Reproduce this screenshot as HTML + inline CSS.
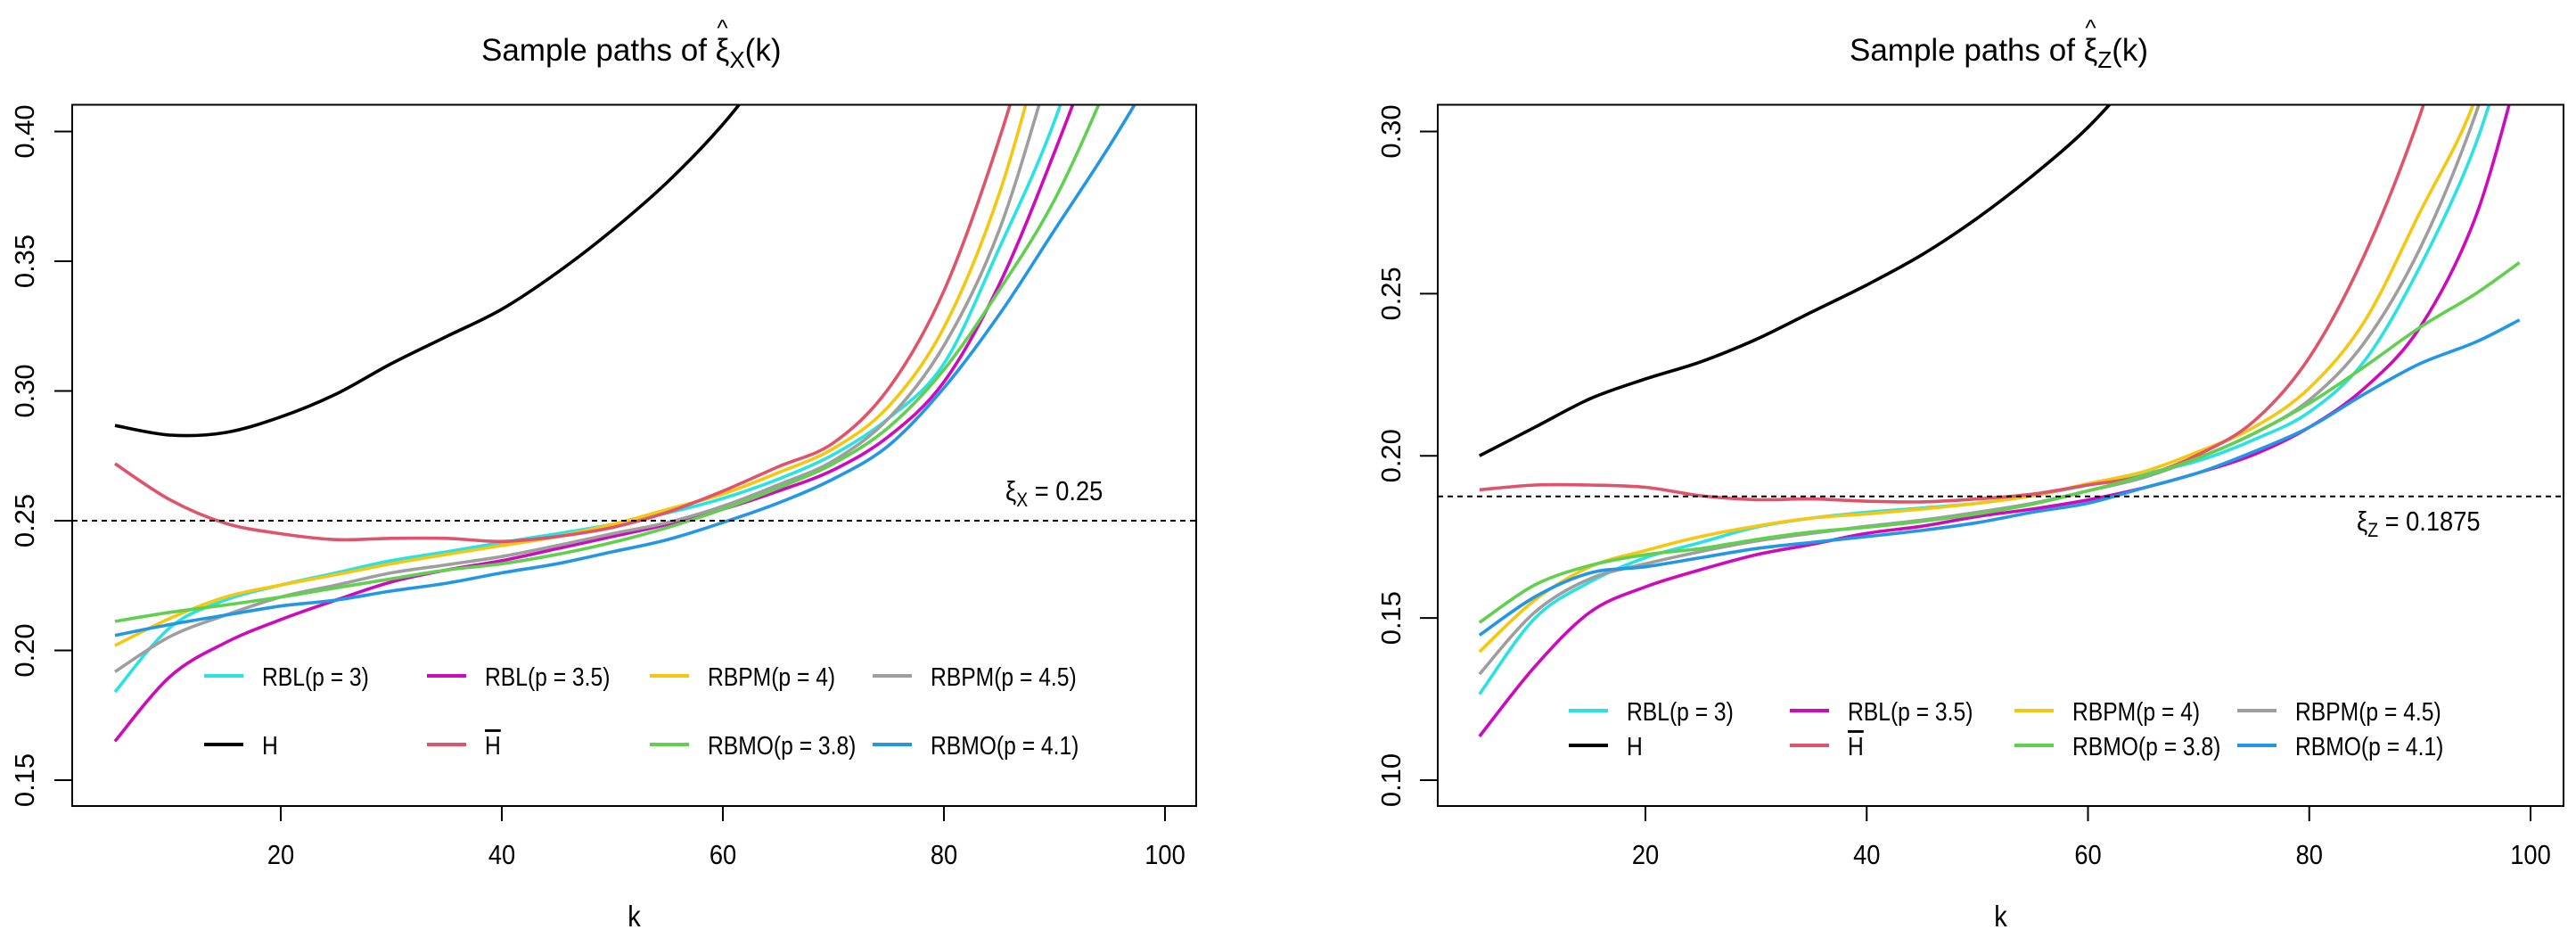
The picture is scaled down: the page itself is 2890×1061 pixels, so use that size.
<!DOCTYPE html>
<html><head><meta charset="utf-8"><style>
html,body{margin:0;padding:0;background:#fff}
svg{display:block}
text{font-family:"Liberation Sans",sans-serif;fill:#000}
</style></head><body>
<svg id="chart" width="2890" height="1061" viewBox="0 0 2890 1061" xmlns="http://www.w3.org/2000/svg"></svg>
<script>
// ---- data ----
const kGrid = [5,10,15,20,25,30,35,40,45,50,55,60,65,70,75,80,85,90,95,100];
const seriesNames = ["RBL(p = 3)","RBL(p = 3.5)","RBPM(p = 4)","RBPM(p = 4.5)","H","H̄","RBMO(p = 3.8)","RBMO(p = 4.1)"];
const seriesColors = ["#28E2E5","#CD0BBC","#F5C710","#9E9E9E","#000000","#DF536B","#61D04F","#2297E6"];
// Left panel (X)
const xCyan    = [0.184,0.2089,0.2194,0.2252,0.2299,0.2346,0.238,0.2416,0.245,0.2486,0.253,0.2586,0.266,0.2755,0.2895,0.3105,0.355,0.404,0.47,0.54];
const xMagenta = [0.165,0.190,0.203,0.2119,0.2194,0.2264,0.231,0.2346,0.2392,0.2439,0.2486,0.2544,0.2614,0.2696,0.2825,0.3035,0.341,0.392,0.45,0.52];
const xYellow  = [0.2019,0.2124,0.2206,0.2252,0.2292,0.2334,0.237,0.2404,0.2439,0.2486,0.2544,0.2603,0.2685,0.2778,0.2941,0.3245,0.376,0.45,0.52,0.6];
const xGray    = [0.1918,0.2054,0.2136,0.2206,0.2252,0.2299,0.233,0.2362,0.2404,0.245,0.2493,0.2556,0.2638,0.2731,0.2895,0.3175,0.362,0.43,0.5,0.58];
const xBlack   = [0.2867,0.283,0.284,0.290,0.2988,0.3105,0.321,0.3315,0.3456,0.362,0.3806,0.4028,0.43,0.46,0.5,0.55,0.6,0.65,0.7,0.75];
const xRed     = [0.272,0.258,0.249,0.245,0.2427,0.2432,0.2432,0.242,0.2439,0.2474,0.2533,0.2614,0.2708,0.280,0.301,0.3386,0.397,0.47,0.55,0.6];
const xGreen   = [0.2112,0.2147,0.2175,0.2206,0.2241,0.2276,0.231,0.2334,0.237,0.2416,0.2474,0.2544,0.2626,0.272,0.286,0.3082,0.3388,0.3736,0.42,0.47];
const xBlue    = [0.2058,0.21,0.2136,0.2171,0.2194,0.2229,0.2259,0.2299,0.2334,0.238,0.2427,0.2493,0.2568,0.2661,0.279,0.3012,0.3294,0.362,0.3946,0.43];
// Right panel (Z)
const kGridZ = [5,10,15,20,25,30,35,40,45,50,55,60,65,70,75,80,85,90,95,99];
const zCyan    = [0.1265,0.1499,0.1611,0.1686,0.1733,0.178,0.1808,0.1826,0.1839,0.1854,0.1877,0.191,0.1944,0.1985,0.205,0.2135,0.2293,0.2583,0.2957,0.34];
const zMagenta = [0.1135,0.135,0.1518,0.1596,0.1649,0.1695,0.1727,0.1761,0.1783,0.1813,0.1836,0.1864,0.1901,0.1948,0.2004,0.2088,0.2209,0.2396,0.2733,0.32];
const zYellow  = [0.1396,0.1555,0.1658,0.1708,0.1751,0.1783,0.1808,0.1821,0.1836,0.1854,0.1877,0.1914,0.1951,0.2013,0.2088,0.2209,0.2415,0.2751,0.31,0.36];
const zGray    = [0.1327,0.1518,0.1621,0.1667,0.1705,0.1737,0.1761,0.1783,0.1802,0.1826,0.1854,0.1892,0.1933,0.1994,0.2069,0.2172,0.235,0.2639,0.305,0.35];
const zBlack   = [0.2,0.2088,0.2176,0.2237,0.229,0.2359,0.2443,0.2527,0.262,0.2733,0.2864,0.3013,0.32,0.34,0.36,0.38,0.4,0.42,0.44,0.46];
const zRed     = [0.1895,0.191,0.191,0.1903,0.1877,0.1865,0.1867,0.186,0.1858,0.1867,0.1882,0.191,0.1938,0.2004,0.2107,0.2303,0.262,0.305,0.36,0.4];
const zGreen   = [0.1486,0.1602,0.1662,0.1695,0.1714,0.1742,0.1765,0.178,0.1798,0.1821,0.1851,0.1892,0.1938,0.1994,0.2069,0.2162,0.2275,0.2396,0.2499,0.2596];
const zBlue    = [0.1447,0.1565,0.1639,0.1658,0.1686,0.1714,0.1733,0.1751,0.177,0.1794,0.1826,0.1854,0.1901,0.1948,0.2013,0.2088,0.2191,0.2284,0.235,0.2419];
const xTicks = [20,40,60,80,100];
const yTicksX = [0.15,0.20,0.25,0.30,0.35,0.40];
const yTicksZ = [0.10,0.15,0.20,0.25,0.30];
const refX = 0.25, refZ = 0.1875;

const NS="http://www.w3.org/2000/svg";
const svg=document.getElementById('chart');
function mk(tag,attrs,parent){const e=document.createElementNS(NS,tag);for(const a in attrs)e.setAttribute(a,attrs[a]);(parent||svg).appendChild(e);return e;}
function smoothPath(p){
  let d='M'+p[0][0].toFixed(1)+','+p[0][1].toFixed(1);
  for(let i=0;i<p.length-1;i++){
    const p0=p[i-1]||p[i],p1=p[i],p2=p[i+1],p3=p[i+2]||p2;
    const c1=[p1[0]+(p2[0]-p0[0])/6,p1[1]+(p2[1]-p0[1])/6];
    const c2=[p2[0]-(p3[0]-p1[0])/6,p2[1]-(p3[1]-p1[1])/6];
    d+=' C'+c1[0].toFixed(1)+','+c1[1].toFixed(1)+' '+c2[0].toFixed(1)+','+c2[1].toFixed(1)+' '+p2[0].toFixed(1)+','+p2[1].toFixed(1);
  }
  return d;
}

function panel(o){
  const g=mk('g',{});
  
  
  const sx=k=>o.x20+(k-20)*(o.x100-o.x20)/80;
  const sy=v=>o.yTop+(o.vTop-v)*(o.yBot-o.yTop)/(o.vTop-o.vBot);
  const cp=mk('clipPath',{id:'clip-'+o.id},g);
  mk('rect',{x:o.L,y:o.T,width:o.R-o.L,height:o.B-o.T},cp);
  const sg=mk('g',{'clip-path':'url(#clip-'+o.id+')'},g);
  o.series.forEach((s,i)=>{
    const pts=o.ks.map((k,j)=>[sx(k),sy(s[j])]);
    const p=mk('path',{d:smoothPath(pts),fill:'none',stroke:seriesColors[i],'stroke-width':3.6,'stroke-linejoin':'round'},sg);
    
    
  });
  const rl=mk('line',{x1:o.L,x2:o.R,y1:sy(o.ref),y2:sy(o.ref),stroke:'#000','stroke-width':2,'stroke-dasharray':'6,5'},g);
  
  
  const bx=mk('rect',{x:o.L,y:o.T,width:o.R-o.L,height:o.B-o.T,fill:'none',stroke:'#000','stroke-width':2},g);
  
  
  xTicks.forEach(t=>{
    mk('line',{x1:sx(t),x2:sx(t),y1:o.B,y2:o.B+17,stroke:'#000','stroke-width':2},g);
    const tx=mk('text',{transform:`translate(${sx(t)},969) scale(0.88,1)`,'text-anchor':'middle','font-size':31},g);
    tx.textContent=t;
    
    
  });
  o.yt.forEach(t=>{
    mk('line',{x1:o.L,x2:o.L-20,y1:sy(t),y2:sy(t),stroke:'#000','stroke-width':2},g);
    const tx=mk('text',{transform:`translate(${o.yl},${sy(t)}) rotate(-90)`,'text-anchor':'middle','font-size':31},g);
    tx.textContent=t.toFixed(2);
    
    
  });
  const kl=mk('text',{transform:`translate(${(o.L+o.R)/2},1039) scale(0.88,1)`,'text-anchor':'middle','font-size':33},g);
  kl.textContent='k';
  
  
  const tt=mk('text',{x:o.tx,y:68,'font-size':35},g);
  tt.innerHTML='Sample paths of <tspan>ξ</tspan><tspan font-size="26" dy="8">'+o.sub+'</tspan><tspan dy="-8">(k)</tspan>';
  
  
  let hx=o.tx+262;
  try{const a=tt.getStartPositionOfChar(16),b=tt.getEndPositionOfChar(16);hx=(a.x+b.x)/2;}catch(e){}
  const hat=mk('text',{x:hx,y:40,'font-size':26,'text-anchor':'middle'},g);
  hat.textContent='^';
  
  
  const an=mk('text',{transform:`translate(${o.ax},${o.ay}) scale(0.88,1)`,'font-size':31},g);
  an.innerHTML='ξ<tspan font-size="22" dy="7">'+o.sub+'</tspan><tspan dy="-7"> = '+o.reftxt+'</tspan>';
  
  
  const lg=mk('g',{},g);
  
  
  seriesNames.forEach((n,i)=>{
    const c=i%4, r=Math.floor(i/4);
    const x=o.lx[c], y=o.ly[r];
    const e=mk('g',{},lg);
    
    
    mk('line',{x1:x,x2:x+44,y1:y,y2:y,stroke:seriesColors[i],'stroke-width':4},e);
    const t=mk('text',{transform:`translate(${x+65},${y+11}) scale(0.85,1)`,'font-size':29},e);
    if(n==='H̄'){t.innerHTML='<tspan text-decoration="overline">H</tspan>';}
    else t.textContent=n;
  });
}

panel({id:'left',L:81,R:1342,T:117.5,B:904,x20:315,x100:1307,yTop:147.5,yBot:875,vTop:0.40,vBot:0.15,
  ks:kGrid,series:[xCyan,xMagenta,xYellow,xGray,xBlack,xRed,xGreen,xBlue],ref:refX,reftxt:'0.25',sub:'X',
  yt:yTicksX,yl:38,tx:540,ax:1128,ay:561,lx:[229,479,729,979],ly:[758,835]});
panel({id:'right',L:1613,R:2876,T:117.5,B:904,x20:1846,x100:2839,yTop:147.5,yBot:875,vTop:0.30,vBot:0.10,
  ks:kGridZ,series:[zCyan,zMagenta,zYellow,zGray,zBlack,zRed,zGreen,zBlue],ref:refZ,reftxt:'0.1875',sub:'Z',
  yt:yTicksZ,yl:1571,tx:2075,ax:2644,ay:595,lx:[1760,2008,2260,2510],ly:[797,836]});
</script>
</body></html>
